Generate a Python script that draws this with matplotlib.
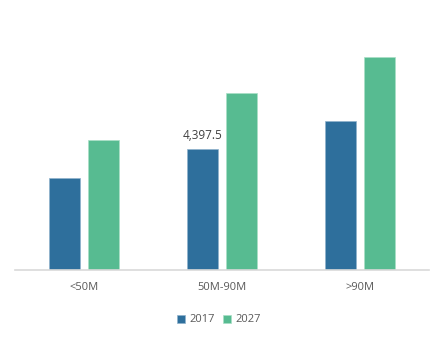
import numpy as np
import matplotlib.pyplot as plt

plt.rcParams['font.family'] = ['Open Sans', 'DejaVu Sans']

categories = ['<50M', '50M-90M', '>90M']
series_names = ['2017', '2027']
values_2017 = [3324, 4397.5, 5412]
values_2027 = [4702, 6405, 7721]
colors = ['#2e6f9c', '#57bb91']

fig = plt.figure(figsize=(4.45, 3.45), dpi=100)
ax = fig.add_axes([15 / 445, 75 / 345, 414 / 445, 250 / 345])

x = np.arange(len(categories))
width = 0.225
offset = 0.141
b1 = ax.bar(x - offset, values_2017, width, color=colors[0], edgecolor='#8fb3cc',
            linewidth=0.5, label=series_names[0])
b2 = ax.bar(x + offset, values_2027, width, color=colors[1], edgecolor='#a9e0c6',
            linewidth=0.5, label=series_names[1])

# only the middle 2017 bar carries a value label
ax.annotate(f'{values_2017[1]:,.1f}', (x[1] - offset, values_2017[1]),
            xytext=(0, 5), textcoords='offset points', ha='center', va='bottom',
            fontsize=8.5, color='#404040')

ax.set_xlim(-0.5, 2.5)
ax.set_ylim(0, 9062)
ax.set_xticks(x)
ax.set_xticklabels(categories, fontsize=8, color='#595959')
ax.tick_params(axis='x', length=0, pad=9)
ax.set_yticks([])
for side in ['top', 'right', 'left']:
    ax.spines[side].set_visible(False)
ax.spines['bottom'].set_color('#d9d9d9')
ax.spines['bottom'].set_linewidth(1.2)

fig.legend(handles=[b1, b2], loc='center', bbox_to_anchor=(219 / 445, 1 - 320 / 345),
           ncol=2, frameon=False, fontsize=8, handlelength=0.7, handleheight=0.7,
           handletextpad=0.4, columnspacing=0.8, labelcolor='#595959')

fig.savefig('out.png', dpi=100)
